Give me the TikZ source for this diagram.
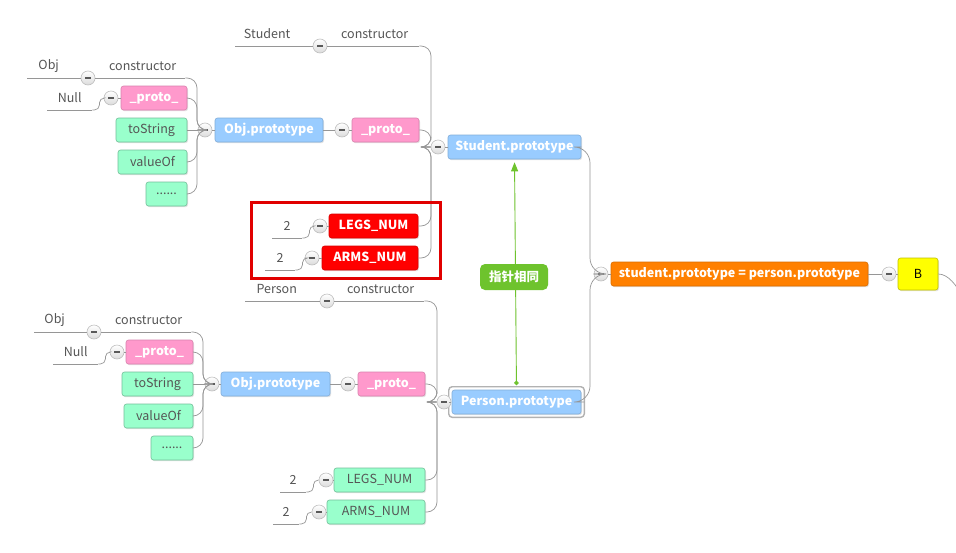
\documentclass[tikz,border=0pt]{standalone}
\usepackage{fontspec}
\setmainfont{Noto Sans CJK SC}
\usetikzlibrary{arrows.meta,shadows,calc}
\definecolor{cblue}{HTML}{99CCFF}
\definecolor{cpink}{HTML}{FF99CC}
\definecolor{cgreen}{HTML}{99FFCC}
\definecolor{cred}{HTML}{FF0000}
\definecolor{corange}{HTML}{FF8000}
\definecolor{cyellow}{HTML}{FFFF00}
\definecolor{clabel}{RGB}{110,195,45}
\definecolor{cline}{RGB}{150,150,150}
\definecolor{ctext}{RGB}{85,85,85}
\definecolor{cframe}{RGB}{225,0,0}
\newcommand\fsz{\fontsize{12.5}{15}\selectfont}
\newcommand\mn{\textcolor{black!65}{\rule{6pt}{2pt}}}
\tikzset{
  x=1pt,y=-1pt,
  box/.style={rectangle, rounded corners=2.5pt, minimum height=24, inner xsep=2, inner ysep=0,
    font=\fsz\bfseries, text=white, line width=0.6pt,
    drop shadow={shadow xshift=1pt, shadow yshift=-1.2pt, opacity=0.22}},
  bluebox/.style={box, fill=cblue, draw=cblue!85!black},
  pinkbox/.style={box, fill=cpink, draw=cpink!85!black},
  greenbox/.style={box, fill=cgreen, draw=cgreen!75!black, text=ctext, font=\fsz},
  redbox/.style={box, fill=cred, draw=cred!85!black},
  orangebox/.style={box, fill=corange, draw=corange!85!black},
  yellowbox/.style={box, fill=cyellow, draw=cyellow!75!black, text=black, font=\fsz},
  txt/.style={inner sep=0, minimum height=24, text=ctext, font=\fsz, anchor=south west},
  conn/.style={draw=cline, line width=0.7pt, rounded corners=10pt},
  btn/.style={circle, inner sep=0, minimum size=14, draw=gray!50, line width=0.6pt,
    top color=white, bottom color=gray!28},
}
\begin{document}
\begin{tikzpicture}
\useasboundingbox[fill=white] (0,0) rectangle (956,552);

% ---------------- top: Student ----------------
\node[bluebox, minimum width=133] (sp) at (514.5,147) {Student.prototype};
\node[pinkbox, minimum width=67] (p1) at (385.5,130) {\_proto\_};
\node[bluebox, minimum width=108] (o1) at (269,130) {Obj.prototype};
\node[pinkbox, minimum width=66] (p1b) at (154,98) {\_proto\_};
\node[greenbox, minimum width=71] (ts1) at (151.5,130) {toString};
\node[greenbox, minimum width=69] (vo1) at (152.5,162) {valueOf};
\node[greenbox, minimum width=41] (d1) at (166.5,194) {......};
\node[redbox, minimum width=89] (l1) at (373.5,226) {LEGS\_NUM};
\node[redbox, minimum width=96] (a1) at (370,258) {ARMS\_NUM};

\node[txt, minimum width=89] (cS) at (330,46) {constructor};
\node[txt, minimum width=64] (tS) at (235,46) {Student};
\node[txt, minimum width=85] (cO1) at (100,78) {constructor};
\node[txt, minimum width=43] (tO1) at (27,78) {Obj};
\node[txt, minimum width=45] (tN1) at (47,110) {Null};
\node[txt, minimum width=30] (t2a) at (272,238) {2};
\node[txt, minimum width=30] (t2b) at (265,270) {2};

\node[btn] (kS) at (438,147) {\mn};
\node[btn] (kcS) at (320,46) {\mn};
\node[btn] (kp1) at (342,130) {\mn};
\node[btn] (ko1) at (205,130) {\mn};
\node[btn] (kcO1) at (88,78) {\mn};
\node[btn] (kp1b) at (111,98) {\mn};
\node[btn] (kl1) at (320,226) {\mn};
\node[btn] (ka1) at (312,258) {\mn};

\coordinate (tSt) at (431,147);
\coordinate (to1) at (197,130);

% underlines
\foreach \n in {cS,tS,cO1,tO1,tN1,t2a,t2b}
  \draw[conn] (\n.south west) -- (\n.south east);

\draw[conn] (cS.south east) -| (tSt) -- (kS);
\draw[conn] (p1.east) -| (tSt) -- (kS);
\draw[conn] (l1.east) -| (tSt) -- (kS);
\draw[conn] (a1.east) -| (tSt) -- (kS);
\draw[conn] (kS) -- (sp);
\draw[conn] (tS.south east) -- (kcS);
\draw[conn] (kcS) -- (cS.south west);
\draw[conn] (o1.east) -- (kp1);
\draw[conn] (kp1) -- (p1);
\draw[conn] (cO1.south east) -| (to1) -- (ko1);
\draw[conn] (p1b.east) -| (to1) -- (ko1);
\draw[conn] (ts1.east) -- (ko1);
\draw[conn] (vo1.east) -| (to1) -- (ko1);
\draw[conn] (d1.east) -| (to1) -- (ko1);
\draw[conn] (ko1) -- (o1);
\draw[conn] (tO1.south east) -- (kcO1);
\draw[conn] (kcO1) -- (cO1.south west);
\draw[conn, rounded corners=5pt] (tN1.south east) -- ++(7,0) |- (kp1b);
\draw[conn] (kp1b) -- (p1b);
\draw[conn, rounded corners=5pt] (t2a.south east) -- ++(7,0) |- (kl1);
\draw[conn] (kl1) -- (l1);
\draw[conn, rounded corners=5pt] (t2b.south east) -- ++(7,0) |- (ka1);
\draw[conn] (ka1) -- (a1);

% ---------------- bottom: Person ----------------
\node[bluebox, minimum width=129] (pp) at (516.5,402) {Person.prototype};
\draw[gray!60, line width=1.4pt, rounded corners=3.5pt]
  ($(pp.south west)+(-3,3)$) rectangle ($(pp.north east)+(3,-3)$);
\node[pinkbox, minimum width=67] (p2) at (391.5,384) {\_proto\_};
\node[bluebox, minimum width=109] (o2) at (275.5,384) {Obj.prototype};
\node[pinkbox, minimum width=67] (p2b) at (159.5,352) {\_proto\_};
\node[greenbox, minimum width=71] (ts2) at (157.5,384) {toString};
\node[greenbox, minimum width=69] (vo2) at (158.5,416) {valueOf};
\node[greenbox, minimum width=42] (d2) at (172,448) {......};
\node[greenbox, minimum width=91] (l2) at (379.5,480) {LEGS\_NUM};
\node[greenbox, minimum width=98] (a2) at (376,512) {ARMS\_NUM};

\node[txt, minimum width=87] (cP) at (337,301) {constructor};
\node[txt, minimum width=63] (tP) at (245,301) {Person};
\node[txt, minimum width=85] (cO2) at (106,332) {constructor};
\node[txt, minimum width=41] (tO2) at (34,332) {Obj};
\node[txt, minimum width=45] (tN2) at (53,364) {Null};
\node[txt, minimum width=26] (t2c) at (280,492) {2};
\node[txt, minimum width=26] (t2d) at (273,524) {2};

\node[btn] (kP) at (444,402) {\mn};
\node[btn] (kcP) at (327,301) {\mn};
\node[btn] (kp2) at (348,384) {\mn};
\node[btn] (ko2) at (212,384) {\mn};
\node[btn] (kcO2) at (94,332) {\mn};
\node[btn] (kp2b) at (117,352) {\mn};
\node[btn] (kl2) at (326,480) {\mn};
\node[btn] (ka2) at (319,512) {\mn};

\coordinate (tPt) at (437,402);
\coordinate (to2) at (203,384);

\foreach \n in {cP,tP,cO2,tO2,tN2,t2c,t2d}
  \draw[conn] (\n.south west) -- (\n.south east);

\draw[conn] (cP.south east) -| (tPt) -- (kP);
\draw[conn] (p2.east) -| (tPt) -- (kP);
\draw[conn] (l2.east) -| (tPt) -- (kP);
\draw[conn] (a2.east) -| (tPt) -- (kP);
\draw[conn] (kP) -- ($(pp.west)+(-3,0)$);
\draw[conn] (tP.south east) -- (kcP);
\draw[conn] (kcP) -- (cP.south west);
\draw[conn] (o2.east) -- (kp2);
\draw[conn] (kp2) -- (p2);
\draw[conn] (cO2.south east) -| (to2) -- (ko2);
\draw[conn] (p2b.east) -| (to2) -- (ko2);
\draw[conn] (ts2.east) -- (ko2);
\draw[conn] (vo2.east) -| (to2) -- (ko2);
\draw[conn] (d2.east) -| (to2) -- (ko2);
\draw[conn] (ko2) -- (o2);
\draw[conn] (tO2.south east) -- (kcO2);
\draw[conn] (kcO2) -- (cO2.south west);
\draw[conn, rounded corners=5pt] (tN2.south east) -- ++(7,0) |- (kp2b);
\draw[conn] (kp2b) -- (p2b);
\draw[conn, rounded corners=5pt] (t2c.south east) -- ++(7,0) |- (kl2);
\draw[conn] (kl2) -- (l2);
\draw[conn, rounded corners=5pt] (t2d.south east) -- ++(7,0) |- (ka2);
\draw[conn] (ka2) -- (a2);

% ---------------- root ----------------
\node[orangebox, minimum width=257] (root) at (739.5,274) {student.prototype = person.prototype};
\node[yellowbox, minimum width=40, minimum height=32] (B) at (918,274) {B};
\node[btn] (kR) at (601,274) {\mn};
\node[btn] (kB) at (889,274) {\mn};
\coordinate (tR) at (590,274);
\coordinate (offB) at (962,296);

\draw[conn, rounded corners=16pt] (sp.east) -| (tR) -- (kR);
\draw[conn, rounded corners=16pt] ($(pp.east)+(3,0)$) -| (tR) -- (kR);
\draw[conn] (kR) -- (root);
\draw[conn] (root) -- (kB);
\draw[conn] (kB) -- (B);
\draw[conn] (B.east) .. controls +(10,0) and +(-5,-10) .. (offB);

% highlight frame
\draw[cframe, line width=3pt] (251,202) rectangle (440,278);

% pointer arrow
\draw[clabel, line width=0.9pt, {Circle[length=4.5pt]}-{Triangle[length=9pt,width=7pt]},
  shorten <=4.5pt, shorten >=3pt] (pp.north) -- (sp.south);
\node[fill=clabel, rounded corners=5pt, minimum width=68, minimum height=26, inner sep=0,
  text=white, font=\fsz\bfseries] (lab) at (514,277) {指针相同};
\end{tikzpicture}
\end{document}
